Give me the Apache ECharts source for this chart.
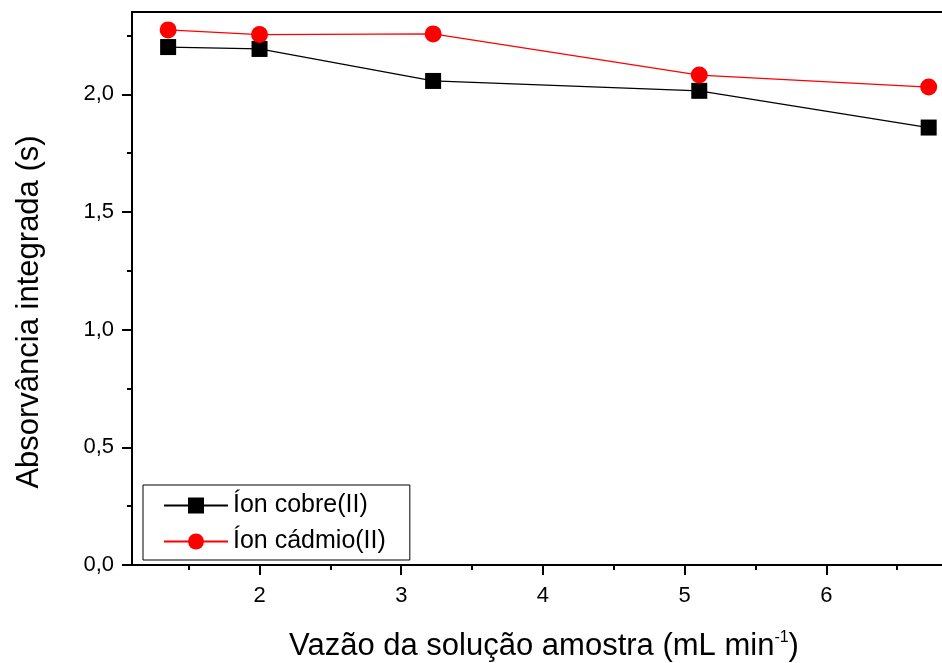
<!DOCTYPE html>
<html>
<head>
<meta charset="utf-8">
<script src="https://cdn.jsdelivr.net/npm/echarts@6/dist/echarts.min.js"></script>
<style>
  html, body { margin: 0; padding: 0; background: #fff; }
  #chart { width: 942px; height: 663px; }
</style>
</head>
<body>
<div id="chart"></div>
<script>
// Sample flow rate (mL min^-1) and integrated absorbance (s)
const flowRates = [1.355, 2.0, 3.225, 5.103, 6.722];
const copperAbs = [2.201, 2.193, 2.057, 2.015, 1.859];
const cadmiumAbs = [2.274, 2.254, 2.257, 2.082, 2.031];

const seriesNames = ['Íon cobre(II)', 'Íon cádmio(II)'];

// Axis ticks
const xMajorTicks = [2, 3, 4, 5, 6];
const xMinorTicks = [1.5, 2.5, 3.5, 4.5, 5.5, 6.5];
const yMajorTicks = [0, 0.5, 1.0, 1.5, 2.0];
const yMinorTicks = [0.25, 0.75, 1.25, 1.75, 2.25];

const xTitleMain = 'Vazão da solução amostra (mL min';
const xTitleSup = '-1';
const xTitleEnd = ')';
const yTitle = 'Absorvância integrada (s)';

const FONT = '"Liberation Sans", Arial, sans-serif';

function pair(xs, ys) { return xs.map((x, i) => [x, ys[i]]); }

// Measure title pieces so the superscript sits right after the main text
const mctx = document.createElement('canvas').getContext('2d');
function textWidth(t, size) { mctx.font = size + 'px ' + FONT; return mctx.measureText(t).width; }
const wMain = textWidth(xTitleMain, 31);
const wSup = textWidth(xTitleSup, 16);
const wEnd = textWidth(xTitleEnd, 31);
const titleCenterX = 544;
const titleLeft = titleCenterX - (wMain + wSup + wEnd) / 2;

const chart = echarts.init(document.getElementById('chart'), null, { renderer: 'canvas' });

// The frame runs past the right edge of the canvas, so the x range ends there
const xCommon = { type: 'value', min: 1.1, max: 6.816, gridIndex: 0 };
const yCommon = { type: 'value', min: 0, max: 2.35, gridIndex: 0, position: 'left' };
const hidden = { show: false };

chart.setOption({
  animation: false,
  backgroundColor: '#fff',
  textStyle: { fontFamily: FONT },
  grid: { left: 132, top: 12, width: 810, height: 553, show: false },
  xAxis: [
    Object.assign({}, xCommon, {
      position: 'bottom',
      axisLine: { show: true, onZero: false, lineStyle: { color: '#000', width: 2 } },
      axisTick: { show: true, length: 10, customValues: xMajorTicks, lineStyle: { color: '#000', width: 2 } },
      axisLabel: { show: true, customValues: xMajorTicks, margin: 20, fontSize: 22, color: '#000', fontFamily: FONT },
      splitLine: hidden
    }),
    Object.assign({}, xCommon, {
      position: 'bottom',
      axisLine: { show: false, onZero: false },
      axisTick: { show: true, length: 5, customValues: xMinorTicks, lineStyle: { color: '#000', width: 2 } },
      axisLabel: hidden,
      splitLine: hidden
    }),
    // top frame line
    Object.assign({}, xCommon, {
      position: 'top',
      axisLine: { show: true, onZero: false, lineStyle: { color: '#000', width: 2 } },
      axisTick: hidden,
      axisLabel: hidden,
      splitLine: hidden
    })
  ],
  yAxis: [
    Object.assign({}, yCommon, {
      axisLine: { show: true, onZero: false, lineStyle: { color: '#000', width: 2 } },
      axisTick: { show: true, length: 10, customValues: yMajorTicks, lineStyle: { color: '#000', width: 2 } },
      axisLabel: {
        show: true, customValues: yMajorTicks, margin: 18, fontSize: 22, color: '#000', fontFamily: FONT,
        formatter: v => v.toFixed(1).replace('.', ',')
      },
      splitLine: hidden
    }),
    Object.assign({}, yCommon, {
      axisLine: { show: false, onZero: false },
      axisTick: { show: true, length: 5, customValues: yMinorTicks, lineStyle: { color: '#000', width: 2 } },
      axisLabel: hidden,
      splitLine: hidden
    })
  ],
  legend: {
    orient: 'vertical',
    left: 143, top: 485,
    data: seriesNames,
    borderColor: '#000', borderWidth: 1,
    padding: [8, 24, 6, 20],
    itemWidth: 64, itemHeight: 20, itemGap: 11,
    textStyle: { fontSize: 25, color: '#000', fontFamily: FONT }
  },
  series: [
    {
      name: seriesNames[0], type: 'line', xAxisIndex: 0, yAxisIndex: 0,
      data: pair(flowRates, copperAbs),
      symbol: 'rect', symbolSize: 16,
      lineStyle: { color: '#000', width: 1.3 },
      itemStyle: { color: '#000' }
    },
    {
      name: seriesNames[1], type: 'line', xAxisIndex: 0, yAxisIndex: 0,
      data: pair(flowRates, cadmiumAbs),
      symbol: 'circle', symbolSize: 17,
      lineStyle: { color: '#ff0000', width: 1.3 },
      itemStyle: { color: '#ff0000' }
    }
  ],
  graphic: [
    {
      type: 'text', x: 29, y: 312, rotation: Math.PI / 2,
      style: { text: yTitle, font: '31px ' + FONT, fill: '#000', textAlign: 'center', textVerticalAlign: 'middle' }
    },
    {
      type: 'text', x: titleLeft, y: 646,
      style: { text: xTitleMain, font: '31px ' + FONT, fill: '#000', textAlign: 'left', textVerticalAlign: 'middle' }
    },
    {
      type: 'text', x: titleLeft + wMain, y: 638,
      style: { text: xTitleSup, font: '16px ' + FONT, fill: '#000', textAlign: 'left', textVerticalAlign: 'middle' }
    },
    {
      type: 'text', x: titleLeft + wMain + wSup, y: 646,
      style: { text: xTitleEnd, font: '31px ' + FONT, fill: '#000', textAlign: 'left', textVerticalAlign: 'middle' }
    }
  ]
});
</script>
</body>
</html>
